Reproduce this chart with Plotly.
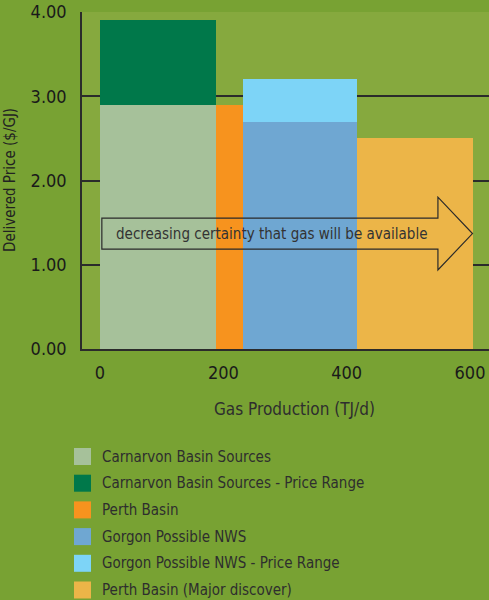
import plotly.graph_objects as go

# --- data -------------------------------------------------------------
sources = ["Carnarvon Basin Sources", "Perth Basin", "Gorgon Possible NWS",
           "Perth Basin (Major discover)"]
supply_start = [0, 188, 232, 417]          # TJ/d, cumulative start of each block
supply_width = [188, 44, 185, 188]         # TJ/d supplied by each source
base_price = [2.9, 2.9, 2.7, 2.5]          # $/GJ
price_high = [3.9, None, 3.2, None]        # top of price range, $/GJ

base_colors = ["#a6c19a", "#f7931e", "#6fa7d2", "#ecb548"]
range_colors = ["#00784a", None, "#7dd4f7", None]

legend_names = ["Carnarvon Basin Sources", "Carnarvon Basin Sources - Price Range",
                "Perth Basin", "Gorgon Possible NWS",
                "Gorgon Possible NWS - Price Range", "Perth Basin (Major discover)"]
legend_colors = ["#a6c19a", "#00784a", "#f7931e", "#6fa7d2", "#7dd4f7", "#ecb548"]

x_ticks = [0, 200, 400, 600]
y_ticks = [0, 1, 2, 3, 4]

FONT = "Liberation Sans Narrow, DejaVu Sans Condensed, Roboto, sans-serif"
W, H = 489, 600
ML, MR, MT, MB = 82, 0, 12, 251
PW, PH = W - ML - MR, H - MT - MB


def px_to_paper(px, py):
    return (px - ML) / PW, (H - MB - py) / PH


fig = go.Figure()

mids = [s + w / 2 for s, w in zip(supply_start, supply_width)]
fig.add_trace(go.Bar(
    x=mids, y=base_price, width=supply_width, base=0,
    marker=dict(color=base_colors, line=dict(width=0)),
    name="base", showlegend=False, hoverinfo="skip"))

rx, ry, rb, rw, rc = [], [], [], [], []
for m, w, b, hi, c in zip(mids, supply_width, base_price, price_high, range_colors):
    if hi is not None:
        rx.append(m); rw.append(w); rb.append(b); ry.append(hi - b); rc.append(c)
fig.add_trace(go.Bar(
    x=rx, y=ry, base=rb, width=rw,
    marker=dict(color=rc, line=dict(width=0)),
    name="range", showlegend=False, hoverinfo="skip"))

# arrow: decreasing certainty
ax0, axh, axt = 3, 548, 604
yc, bh, hh = 1.37, 0.184, 0.432
path = (f"M {ax0},{yc - bh} L {axh},{yc - bh} L {axh},{yc - hh} L {axt},{yc} "
        f"L {axh},{yc + hh} L {axh},{yc + bh} L {ax0},{yc + bh} Z")
fig.add_shape(type="path", path=path, xref="x", yref="y",
              line=dict(color="#2a2a2a", width=1.2), fillcolor="rgba(0,0,0,0)")
fig.add_annotation(x=278, y=yc, xref="x", yref="y",
                   text="decreasing certainty that gas will be available",
                   showarrow=False, font=dict(family=FONT, size=15, color="#333333"))

# y-axis title
tx, ty = px_to_paper(10, 180)
fig.add_annotation(x=tx, y=ty, xref="paper", yref="paper", textangle=-90,
                   xanchor="center", yanchor="middle",
                   text="Delivered Price ($/GJ)", showarrow=False,
                   font=dict(family=FONT, size=15, color="#222222"))

# x-axis title
gx, gy = px_to_paper(294, 409)
fig.add_annotation(x=gx, y=gy, xref="paper", yref="paper",
                   text="Gas Production (TJ/d)", showarrow=False,
                   xanchor="center", yanchor="middle",
                   font=dict(family=FONT, size=17, color="#2e2e2e"))

# legend
row0, step = 456.5, 26.7
for i, (name, col) in enumerate(zip(legend_names, legend_colors)):
    cy = row0 + i * step
    x0, y0 = px_to_paper(74, cy + 8.5)
    x1, y1 = px_to_paper(91, cy - 8.5)
    fig.add_shape(type="rect", xref="paper", yref="paper", x0=x0, x1=x1, y0=y0, y1=y1,
                  fillcolor=col, line=dict(width=0))
    lx, ly = px_to_paper(100, cy)
    fig.add_annotation(x=lx, y=ly, xref="paper", yref="paper", text=name,
                       xanchor="left", yanchor="middle", showarrow=False,
                       font=dict(family=FONT, size=15, color="#2e2e2e"))

px_per_unit = (470 - 100) / 600
fig.update_layout(
    width=W, height=H,
    margin=dict(l=ML, r=MR, t=MT, b=MB, autoexpand=False),
    paper_bgcolor="#78a233", plot_bgcolor="#86a93e",
    barmode="overlay", bargap=0, showlegend=False,
    font=dict(family=FONT, color="#1a1a1a"),
    xaxis=dict(range=[-(100 - ML) / px_per_unit, (W - MR - 100) / px_per_unit],
               tickvals=x_ticks, ticktext=[str(v) for v in x_ticks],
               showgrid=False, zeroline=False, showline=True,
               linecolor="#2b2b2b", linewidth=1.5, ticks="",
               ticklabelstandoff=7, tickfont=dict(size=18)),
    yaxis=dict(range=[0, 4], tickvals=y_ticks,
               ticktext=[f"{v:.2f}" for v in y_ticks],
               showgrid=True, gridcolor="#2b2b2b", gridwidth=1.5,
               zeroline=False, showline=True, linecolor="#2b2b2b", linewidth=1.5,
               ticks="", ticklabelstandoff=10, tickfont=dict(size=18)),
)

fig.write_html("out.html")
